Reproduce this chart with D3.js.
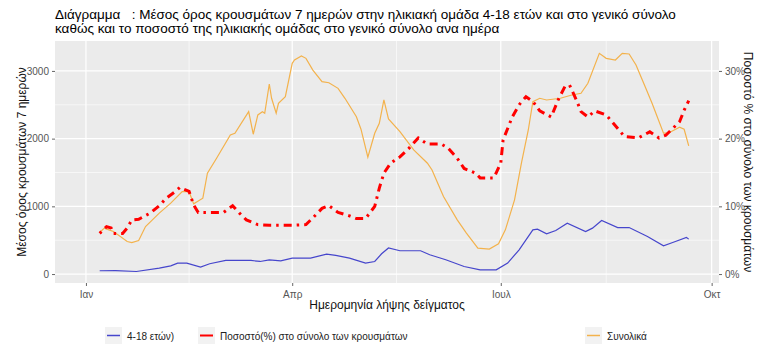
<!DOCTYPE html>
<html>
<head>
<meta charset="utf-8">
<script src="https://cdn.jsdelivr.net/npm/d3@7"></script>
<style>
  body { margin: 0; background: #fff; }
  text { font-family: "Liberation Sans", Arial, sans-serif; }
</style>
</head>
<body>
<div id="chart"></div>
<script>
// ---- data ----
// 7-day mean of cases, age group 4-18
let ageDates = ["2021-01-07","2021-01-14","2021-01-23","2021-02-02","2021-02-07","2021-02-10","2021-02-14",
    "2021-02-20","2021-02-24","2021-03-03","2021-03-14","2021-03-18","2021-03-22","2021-03-27","2021-04-01",
    "2021-04-09","2021-04-16","2021-04-20","2021-04-26","2021-05-03","2021-05-07","2021-05-10","2021-05-13",
    "2021-05-18","2021-05-27","2021-05-31","2021-06-07","2021-06-15","2021-06-22","2021-06-29","2021-07-04",
    "2021-07-09","2021-07-15","2021-07-17","2021-07-21","2021-07-25","2021-07-30","2021-08-07","2021-08-10",
    "2021-08-14","2021-08-21","2021-08-26","2021-09-03","2021-09-10","2021-09-14","2021-09-20","2021-09-21"];
let ageCases = [49,50,38,88,122,162,162,
    103,152,201,201,186,210,196,236,
    236,295,275,236,162,186,300,385,
    344,344,285,211,112,63,63,162,
    358,653,664,594,643,752,628,678,
    791,687,687,555,417,466,540,516];

// 7-day mean of cases, all ages
let totalDates = ["2021-01-07","2021-01-09","2021-01-11","2021-01-13","2021-01-19","2021-01-21","2021-01-24",
    "2021-01-27","2021-02-02","2021-02-07","2021-02-12","2021-02-15","2021-02-17","2021-02-21","2021-02-23",
    "2021-02-27","2021-03-05","2021-03-07","2021-03-13","2021-03-15","2021-03-17","2021-03-19","2021-03-20",
    "2021-03-22","2021-03-23","2021-03-25","2021-03-26","2021-03-29","2021-04-01","2021-04-02","2021-04-05",
    "2021-04-07","2021-04-10","2021-04-14","2021-04-17","2021-04-21","2021-04-24","2021-04-29","2021-05-01",
    "2021-05-04","2021-05-07","2021-05-09","2021-05-11","2021-05-13","2021-05-18","2021-05-24","2021-05-30",
    "2021-06-01","2021-06-06","2021-06-12","2021-06-16","2021-06-21","2021-06-26","2021-06-30","2021-07-03",
    "2021-07-07","2021-07-10","2021-07-13","2021-07-15","2021-07-18","2021-07-21","2021-07-27","2021-08-01",
    "2021-08-05","2021-08-08","2021-08-13","2021-08-16","2021-08-20","2021-08-23","2021-08-26","2021-08-29",
    "2021-09-02","2021-09-05","2021-09-10","2021-09-12","2021-09-17","2021-09-19","2021-09-21"];
let totalCases = [614,678,653,628,481,466,496,
    702,900,1047,1218,1218,1037,1121,1490,
    1711,2054,2080,2398,2065,2350,2398,2375,
    2807,2596,2375,2522,2620,3112,3161,3220,
    3186,3013,2841,2826,2743,2596,2324,2139,
    1726,2080,2227,2571,2290,2103,1833,1637,
    1538,1145,801,605,383,369,447,653,
    1096,1637,2128,2546,2596,2571,2596,2645,
    2670,2817,3260,3186,3161,3260,3250,3087,
    2767,2522,2080,2080,2168,2139,1892];

// share (%) of the age group in all cases
let shareDates = ["2021-01-07","2021-01-10","2021-01-12","2021-01-13","2021-01-17","2021-01-19","2021-01-21",
    "2021-01-24","2021-01-29","2021-02-02","2021-02-05","2021-02-09","2021-02-11","2021-02-15","2021-02-17",
    "2021-02-19","2021-03-02","2021-03-06","2021-03-09","2021-03-12","2021-03-17","2021-03-22","2021-04-01",
    "2021-04-07","2021-04-10","2021-04-14","2021-04-17","2021-04-21","2021-04-26","2021-04-29","2021-05-03",
    "2021-05-07","2021-05-09","2021-05-11","2021-05-14","2021-05-18","2021-05-22","2021-05-26","2021-05-30",
    "2021-06-05","2021-06-08","2021-06-12","2021-06-15","2021-06-20","2021-06-22","2021-06-28","2021-07-01",
    "2021-07-02","2021-07-04","2021-07-06","2021-07-09","2021-07-12","2021-07-15","2021-07-18","2021-07-23",
    "2021-07-26","2021-07-29","2021-07-31","2021-08-03","2021-08-05","2021-08-08","2021-08-11","2021-08-16",
    "2021-08-19","2021-08-24","2021-08-30","2021-09-04","2021-09-08","2021-09-11","2021-09-14","2021-09-17",
    "2021-09-19","2021-09-21"];
let sharePct = [6.0,7.0,6.8,6.0,6.0,6.8,8.0,
    8.1,9.0,10.1,11.2,12.2,12.8,12.2,10.2,
    9.1,9.1,10.1,9.0,8.0,7.3,7.2,7.2,
    7.3,8.3,9.7,10.1,9.1,8.6,8.2,8.2,
    10.0,12.7,14.9,16.4,17.3,18.6,20.1,19.2,
    19.2,18.6,17.1,15.6,14.9,14.2,14.2,16.4,
    19.8,21.5,23.2,25.0,26.2,25.5,24.1,23.2,
    25.7,27.7,27.9,25.7,24.0,23.2,24.1,23.5,
    22.3,20.3,20.1,21.0,20.1,20.5,21.5,22.5,
    24.2,25.6];

let yTicks = [0, 1000, 2000, 3000];
let pctTicks = [0, 10, 20, 30];
let monthTicks = ["2021-01-01", "2021-04-01", "2021-07-01", "2021-10-01"];
let monthLabels = ["Ιαν", "Απρ", "Ιουλ", "Οκτ"];

let titleLines = ["Διάγραμμα   : Μέσος όρος κρουσμάτων 7 ημερών στην ηλικιακή ομάδα 4-18 ετών και στο γενικό σύνολο",
    "καθώς και το ποσοστό της ηλικιακής ομάδας στο γενικό σύνολο ανα ημέρα"];
let legendLabels = ["4-18 ετών)", "Ποσοστό(%) στο σύνολο των κρουσμάτων", "Συνολικά"];

// ---- drawing ----
let parseDate = d3.timeParse("%Y-%m-%d");
let width = 760, height = 353;
let panel = {left: 55, right: 719, top: 41, bottom: 283};

let colBlue = "#4646cc", colRed = "#ff0000", colOrange = "#f3b24c";

let svg = d3.select("#chart").append("svg")
    .attr("width", width)
    .attr("height", height)
    .style("display", "block");

svg.append("rect").attr("width", width).attr("height", height).attr("fill", "#fff");

let x = d3.scaleTime()
    .domain([new Date(2020, 11, 18, 12), new Date(2021, 9, 4, 5)])
    .range([panel.left, panel.right]);
let y = d3.scaleLinear()
    .domain([-132, 3442])
    .range([panel.bottom, panel.top]);

// panel background
svg.append("rect")
    .attr("x", panel.left).attr("y", panel.top)
    .attr("width", panel.right - panel.left)
    .attr("height", panel.bottom - panel.top)
    .attr("fill", "#ebebeb");

// grid: minor then major
let xMajor = monthTicks.map(parseDate);
let xMinor = d3.pairs(xMajor).map(([a, b]) => new Date((a.getTime() + b.getTime()) / 2));
let yMinor = d3.pairs(yTicks).map(([a, b]) => (a + b) / 2);

let grid = svg.append("g");
grid.selectAll(".ym").data(yMinor).enter().append("line")
    .attr("x1", panel.left).attr("x2", panel.right)
    .attr("y1", d => y(d)).attr("y2", d => y(d))
    .attr("stroke", "#fff").attr("stroke-width", 0.6);
grid.selectAll(".xm").data(xMinor).enter().append("line")
    .attr("y1", panel.top).attr("y2", panel.bottom)
    .attr("x1", d => x(d)).attr("x2", d => x(d))
    .attr("stroke", "#fff").attr("stroke-width", 0.6);
grid.selectAll(".yM").data(yTicks).enter().append("line")
    .attr("x1", panel.left).attr("x2", panel.right)
    .attr("y1", d => y(d)).attr("y2", d => y(d))
    .attr("stroke", "#fff").attr("stroke-width", 1.2);
grid.selectAll(".xM").data(xMajor).enter().append("line")
    .attr("y1", panel.top).attr("y2", panel.bottom)
    .attr("x1", d => x(d)).attr("x2", d => x(d))
    .attr("stroke", "#fff").attr("stroke-width", 1.2);

// lines
let line = d3.line().x(d => x(d.date)).y(d => y(d.value));

let totalData = totalDates.map((d, i) => ({date: parseDate(d), value: totalCases[i]}));
let ageData = ageDates.map((d, i) => ({date: parseDate(d), value: ageCases[i]}));
// the share is drawn on the left scale, 10% = 1000
let shareData = shareDates.map((d, i) => ({date: parseDate(d), value: sharePct[i] * 100}));

svg.append("path").datum(totalData)
    .attr("d", line).attr("fill", "none")
    .attr("stroke", colOrange).attr("stroke-width", 1.2);
svg.append("path").datum(ageData)
    .attr("d", line).attr("fill", "none")
    .attr("stroke", colBlue).attr("stroke-width", 1.2);
svg.append("path").datum(shareData)
    .attr("d", line).attr("fill", "none")
    .attr("stroke", colRed).attr("stroke-width", 3)
    .attr("stroke-dasharray", "2.5,5,8,5");

// axes
let axisCol = "#555";
let xAxis = svg.append("g")
    .attr("transform", `translate(0,${panel.bottom})`)
    .call(d3.axisBottom(x).tickValues(xMajor).tickSize(3).tickFormat((d, i) => monthLabels[i]));
let yAxis = svg.append("g")
    .attr("transform", `translate(${panel.left},0)`)
    .call(d3.axisLeft(y).tickValues(yTicks).tickSize(3).tickFormat(d3.format("d")));
let yAxisR = svg.append("g")
    .attr("transform", `translate(${panel.right},0)`)
    .call(d3.axisRight(y).tickValues(pctTicks.map(p => p * 100)).tickSize(3)
        .tickFormat((d, i) => pctTicks[i] + "%"));

[xAxis, yAxis, yAxisR].forEach(g => {
    g.select(".domain").remove();
    g.selectAll(".tick line").attr("stroke", "#666");
    g.selectAll(".tick text").attr("fill", axisCol).attr("font-size", 10)
        .style("font-family", "'Liberation Sans', Arial, sans-serif");
});
xAxis.selectAll(".tick text").attr("dy", "0.9em");

// axis titles
svg.append("text")
    .attr("x", (panel.left + panel.right) / 2).attr("y", 309)
    .attr("text-anchor", "middle").attr("font-size", 12).attr("fill", "#111")
    .text("Ημερομηνία λήψης δείγματος");
svg.append("text")
    .attr("transform", `translate(26,${(panel.top + panel.bottom) / 2}) rotate(-90)`)
    .attr("text-anchor", "middle").attr("font-size", 12).attr("fill", "#111")
    .text("Μέσος όρος κρουσμάτων 7 ημερών");
svg.append("text")
    .attr("transform", `translate(744,${(panel.top + panel.bottom) / 2}) rotate(90)`)
    .attr("text-anchor", "middle").attr("font-size", 12).attr("fill", "#111")
    .text("Ποσοστό % στο σύνολο των κρουσμάτων");

// title
svg.append("g").selectAll("text").data(titleLines).enter().append("text")
    .attr("x", 55).attr("y", (d, i) => 19 + i * 13.5)
    .attr("font-size", 13.5).attr("fill", "#000")
    .style("white-space", "pre")
    .text(d => d);

// legend
let legendX = [105, 198, 585];
let legendCols = [colBlue, colRed, colOrange];
let legend = svg.append("g").selectAll("g").data(legendLabels).enter().append("g")
    .attr("transform", (d, i) => `translate(${legendX[i]},327)`);
legend.append("rect").attr("width", 17).attr("height", 17).attr("fill", "#f2f2f2");
legend.append("line")
    .attr("x1", 2).attr("x2", 15).attr("y1", 8.5).attr("y2", 8.5)
    .attr("stroke", (d, i) => legendCols[i])
    .attr("stroke-width", (d, i) => i === 1 ? 2 : 1.5);
legend.append("text")
    .attr("x", 22).attr("y", 12.5)
    .attr("font-size", 10).attr("fill", "#222")
    .text(d => d);
</script>
</body>
</html>
